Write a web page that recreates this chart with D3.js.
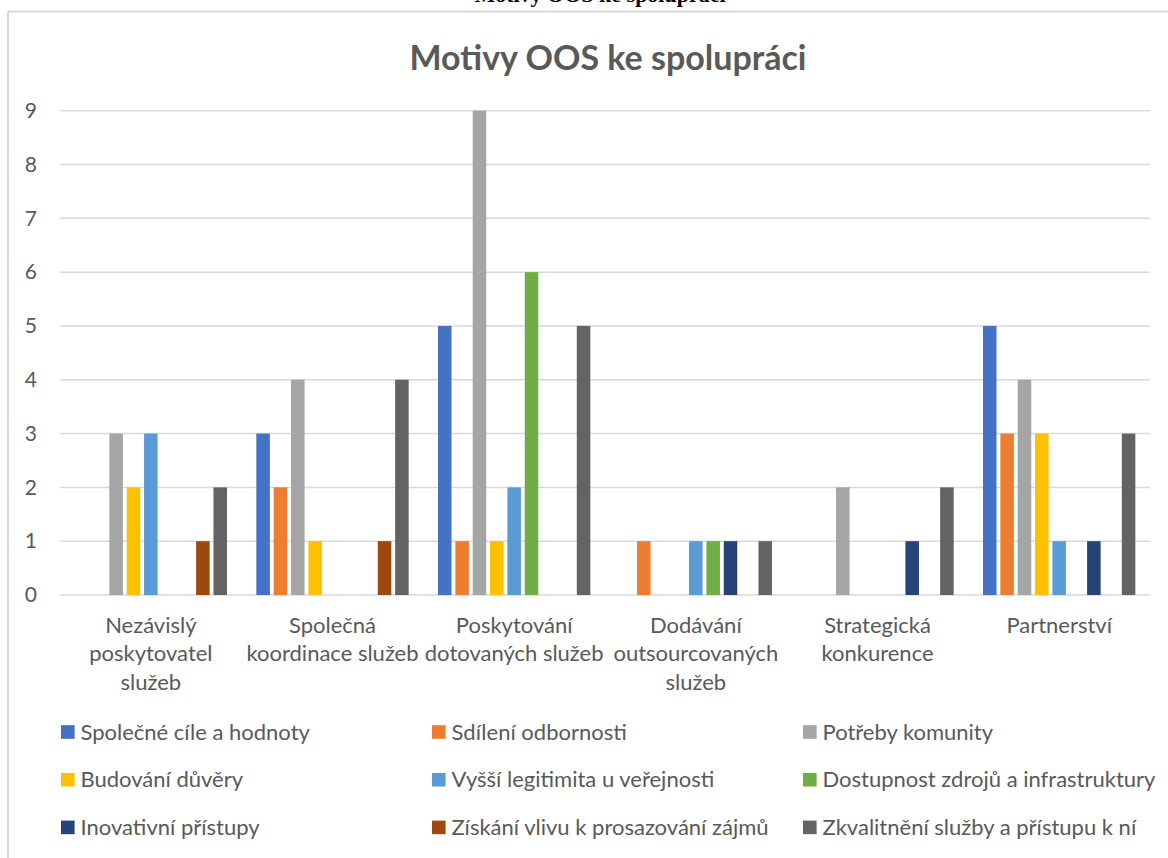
<!DOCTYPE html>
<html><head><meta charset="utf-8">
<script src="https://cdn.jsdelivr.net/npm/d3@7"></script>
<style>
html,body{margin:0;padding:0;background:#fff;}
svg{display:block;}
</style></head>
<body>
<svg id="chart" width="1168" height="858"></svg>
<script>
const title = "Motivy OOS ke spolupráci";
const categories = ["Nezávislý poskytovatel služeb","Společná koordinace služeb","Poskytování dotovaných služeb","Dodávání outsourcovaných služeb","Strategická konkurence","Partnerství"];
const categoryLines = [["Nezávislý","poskytovatel","služeb"],["Společná","koordinace služeb"],["Poskytování","dotovaných služeb"],["Dodávání","outsourcovaných","služeb"],["Strategická","konkurence"],["Partnerství"]];
const seriesNames = ["Společné cíle a hodnoty","Sdílení odbornosti","Potřeby komunity","Budování důvěry","Vyšší legitimita u veřejnosti","Dostupnost zdrojů a infrastruktury","Inovativní přístupy","Získání vlivu k prosazování zájmů","Zkvalitnění služby a přístupu k ní"];
const seriesColors = ["#4472C4","#ED7D31","#A5A5A5","#FFC000","#5B9BD5","#70AD47","#264478","#9E480E","#636363"];
// values per series, one entry per category
const sSpolecneCile   = [0,3,5,0,0,5];
const sSdileni        = [0,2,1,1,0,3];
const sPotreby        = [3,4,9,0,2,4];
const sDuvera         = [2,1,1,0,0,3];
const sLegitimita     = [3,0,2,1,0,1];
const sZdroje         = [0,0,6,1,0,0];
const sInovativni     = [0,0,0,1,1,1];
const sVliv           = [1,1,0,0,0,0];
const sZkvalitneni    = [2,4,5,1,2,3];
const seriesValues = [sSpolecneCile,sSdileni,sPotreby,sDuvera,sLegitimita,sZdroje,sInovativni,sVliv,sZkvalitneni];
const yTicks = [0,1,2,3,4,5,6,7,8,9];

const svg = d3.select("#chart");
const font = "Lato, 'Open Sans', sans-serif";
const textColor = "#595959";

// top clipped caption (from the document above the chart)
svg.append("text").attr("x", 600).attr("y", 2).attr("text-anchor","middle")
  .attr("font-family","'Liberation Serif', 'DejaVu Serif', serif").attr("font-weight","bold")
  .attr("font-size",22).attr("fill","#000").text(title);

// chart border
svg.append("line").attr("x1",8).attr("x2",1168).attr("y1",11.5).attr("y2",11.5).attr("stroke","#D9D9D9").attr("stroke-width",2);
svg.append("line").attr("x1",8).attr("x2",8).attr("y1",11).attr("y2",858).attr("stroke","#D9D9D9").attr("stroke-width",2);

// title
svg.append("text").attr("x",608).attr("y",70).attr("text-anchor","middle")
  .attr("font-family",font).attr("font-weight","bold").attr("font-size",34)
  .attr("fill",textColor).text(title);

const x0 = d3.scaleBand().domain(categories).range([60,1150]).padding(0);
const x1 = d3.scaleBand().domain(d3.range(seriesNames.length)).range([0,x0.bandwidth()]).paddingInner(0.22).paddingOuter(0.845);
const y = d3.scaleLinear().domain([0,9]).range([595,110.7]);

// gridlines
svg.append("g").selectAll("line").data(yTicks).join("line")
  .attr("x1",60).attr("x2",1150).attr("y1",d=>y(d)).attr("y2",d=>y(d))
  .attr("stroke","#D9D9D9").attr("stroke-width",1.5);

// y axis labels
const yAxis = d3.axisLeft(y).tickValues(yTicks).tickSize(0).tickPadding(0).tickFormat(d3.format("d"));
const gy = svg.append("g").attr("transform","translate(37,0)").call(yAxis);
gy.select(".domain").remove();
gy.selectAll("text").attr("font-family",font).attr("font-size",21).attr("fill",textColor);

// bars
const groups = svg.append("g").selectAll("g").data(categories).join("g")
  .attr("transform",d=>`translate(${x0(d)},0)`);
groups.selectAll("rect").data((c,ci)=>seriesValues.map((vals,si)=>({si, v:vals[ci]})).filter(d=>d.v>0)).join("rect")
  .attr("x",d=>x1(d.si)).attr("width",x1.bandwidth())
  .attr("y",d=>y(d.v)).attr("height",d=>y(0)-y(d.v))
  .attr("fill",d=>seriesColors[d.si]);

// x axis labels
const xAxis = d3.axisBottom(x0).tickSize(0).tickFormat("");
const gx = svg.append("g").attr("transform",`translate(0,${y(0)})`).call(xAxis);
gx.select(".domain").remove();
gx.selectAll(".tick").each(function(d,i){
  const t = d3.select(this).append("text").attr("text-anchor","middle")
    .attr("font-family",font).attr("font-size",22).attr("fill",textColor);
  categoryLines[i].forEach((ln,li)=>{
    t.append("tspan").attr("x",0).attr("y",37.5 + li*28.7).text(ln);
  });
});

// legend
const legend = svg.append("g");
seriesNames.forEach((name,i)=>{
  const col = i%3, row = Math.floor(i/3);
  const lx = 61 + col*371, ly = 732 + row*47.7;
  legend.append("rect").attr("x",lx).attr("y",ly-6.8).attr("width",13.6).attr("height",13.6).attr("fill",seriesColors[i]);
  legend.append("text").attr("x",lx+19.5).attr("y",ly).attr("dy","0.35em")
    .attr("font-family",font).attr("font-size",22).attr("fill",textColor).text(name);
});
</script>
</body></html>
